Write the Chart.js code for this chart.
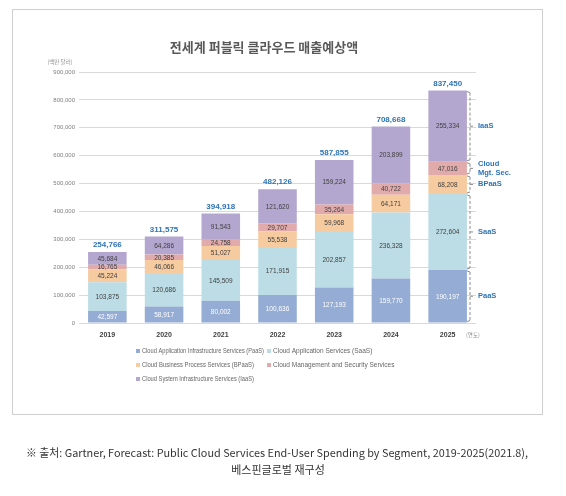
<!DOCTYPE html>
<html><head><meta charset="utf-8">
<script src="https://cdn.jsdelivr.net/npm/chart.js@4.4.1/dist/chart.umd.min.js"></script>
<style>html,body{margin:0;padding:0;background:#fff;}canvas{display:block;}</style>
</head><body>
<canvas id="c" width="566" height="496" style="width:566px;height:496px"></canvas>
<script>
const years = ['2019','2020','2021','2022','2023','2024','2025'];
const paas  = [42597, 58917, 80002, 100636, 127193, 159770, 190197];
const saas  = [103875, 120686, 145509, 171915, 202857, 236328, 272604];
const bpaas = [45224, 46066, 51027, 55538, 59968, 64171, 68208];
const mgmt  = [16765, 20385, 24758, 29707, 35264, 40722, 47016];
const iaas  = [45684, 64286, 91543, 121620, 159224, 203899, 255334];
const totals = [254766, 311575, 394918, 482126, 587855, 708668, 837450];
const seriesNames = [
  'Cloud Application Infrastructure Services (PaaS)',
  'Cloud Application Services (SaaS)',
  'Cloud Business Process Services (BPaaS)',
  'Cloud Management and Security Services',
  'Cloud System Infrastructure Services (IaaS)'
];
const shortNames = [['PaaS'], ['SaaS'], ['BPaaS'], ['Cloud','Mgt. Sec.'], ['IaaS']];
const title = '전세계 퍼블릭 클라우드 매출예상액';
const unitLabel = '(백만 달러)';
const xUnit = '(연도)';
const source1 = '※ 출처: Gartner, Forecast: Public Cloud Services End-User Spending by Segment, 2019-2025(2021.8),';
const source2 = '베스핀글로벌 재구성';

const colors = ['#95acd4', '#bcdde6', '#f7cba0', '#e2abab', '#b4a7cf'];
const labelColors = ['#ffffff', '#404040', '#404040', '#404040', '#404040'];
const blue = '#2e75b6';
const fmt = v => v.toLocaleString('en-US');

const deco = {
  id: 'deco',
  beforeDraw(chart) {
    const ctx = chart.ctx;
    ctx.save();
    ctx.fillStyle = '#fff';
    ctx.fillRect(0, 0, chart.width, chart.height);
    ctx.strokeStyle = '#cfcfcf';
    ctx.lineWidth = 1;
    ctx.strokeRect(12.5, 9.5, 530, 405);
    ctx.restore();
  },
  afterDatasetsDraw(chart) {
    const ctx = chart.ctx;
    ctx.save();
    ctx.textAlign = 'center';
    ctx.textBaseline = 'middle';
    ctx.font = '6.5px "Liberation Sans", sans-serif';
    chart.data.datasets.forEach((ds, di) => {
      const meta = chart.getDatasetMeta(di);
      meta.data.forEach((el, i) => {
        ctx.fillStyle = labelColors[di];
        ctx.fillText(fmt(ds.data[i]), el.x, (el.y + el.base) / 2 + 0.5, 34);
      });
    });
    const topMeta = chart.getDatasetMeta(chart.data.datasets.length - 1);
    ctx.font = 'bold 8px "Liberation Sans", sans-serif';
    ctx.fillStyle = blue;
    topMeta.data.forEach((el, i) => {
      ctx.fillText(fmt(totals[i]), el.x, el.y - 7);
    });
    const last = years.length - 1;
    const bx = 470;
    chart.data.datasets.forEach((ds, di) => {
      const el = chart.getDatasetMeta(di).data[last];
      const top = el.y + 2, bot = el.base - 2, mid = (el.y + el.base) / 2;
      ctx.strokeStyle = '#8c8c8c';
      ctx.lineWidth = 1;
      ctx.setLineDash([3, 2]);
      ctx.beginPath();
      ctx.moveTo(bx, top); ctx.lineTo(bx, bot);
      ctx.stroke();
      ctx.setLineDash([]);
      ctx.beginPath();
      ctx.moveTo(bx - 3, top - 1); ctx.lineTo(bx, top);
      ctx.moveTo(bx - 3, bot + 1); ctx.lineTo(bx, bot);
      ctx.moveTo(bx, mid); ctx.lineTo(bx + 3, mid);
      ctx.stroke();
      ctx.fillStyle = blue;
      ctx.font = 'bold 7.5px "Liberation Sans", sans-serif';
      ctx.textAlign = 'left';
      const lines = shortNames[di];
      lines.forEach((t, k) => {
        ctx.fillText(t, 478, mid + (k - (lines.length - 1) / 2) * 8.5);
      });
      ctx.textAlign = 'center';
    });
    ctx.restore();
  },
  afterDraw(chart) {
    const ctx = chart.ctx;
    ctx.save();
    ctx.textBaseline = 'middle';
    ctx.textAlign = 'center';
    ctx.fillStyle = '#595959';
    ctx.font = 'bold 13px "Noto Sans CJK KR", sans-serif';
    ctx.fillText(title, 264, 47);
    ctx.fillStyle = '#8c8c8c';
    ctx.font = '5.5px "Noto Sans CJK KR", sans-serif';
    ctx.fillText(unitLabel, 60, 62);
    ctx.textAlign = 'left';
    ctx.fillText(xUnit, 466, 335);
    const pos = [[136, 351], [267, 351], [136, 365], [267, 365], [136, 379]];
    ctx.font = '6.5px "Liberation Sans", sans-serif';
    seriesNames.forEach((n, i) => {
      const [x, y] = pos[i];
      ctx.fillStyle = colors[i];
      ctx.fillRect(x, y - 2, 4, 4);
      ctx.fillStyle = '#666';
      ctx.fillText(n, x + 6, y, (i === 0 ? 122 : i === 2 ? 112 : i === 4 ? 112 : 130));
    });
    ctx.textAlign = 'center';
    ctx.fillStyle = '#333';
    ctx.font = '11px "Noto Sans CJK KR", sans-serif';
    ctx.fillText(source1, 277, 453, 502);
    ctx.fillText(source2, 278, 470);
    ctx.restore();
  }
};

const datasetsList = [paas, saas, bpaas, mgmt, iaas].map((arr, i) => ({
  label: seriesNames[i],
  data: arr,
  backgroundColor: colors[i],
  borderWidth: 0,
  categoryPercentage: 1,
  barPercentage: 0.68
}));

new Chart(document.getElementById('c'), {
  type: 'bar',
  data: { labels: years, datasets: datasetsList },
  options: {
    responsive: false,
    animation: false,
    devicePixelRatio: 1,
    layout: { padding: { top: 72, right: 90, left: 0, bottom: 0 } },
    plugins: { legend: { display: false }, tooltip: { enabled: false } },
    scales: {
      x: {
        stacked: true,
        grid: { display: false, drawTicks: false },
        border: { display: false },
        ticks: { color: '#404040', font: { size: 7, weight: 'bold', family: '"Liberation Sans", sans-serif' }, padding: 8 },
        afterFit(s) { s.height = 173; }
      },
      y: {
        stacked: true,
        min: 0, max: 900000,
        grid: { color: '#d9d9d9', drawTicks: false },
        border: { display: false },
        ticks: {
          stepSize: 100000,
          color: '#7f7f7f',
          padding: 4,
          font: { size: 6, family: '"Liberation Sans", sans-serif' },
          callback: v => fmt(v)
        },
        afterFit(s) { s.width = 79; }
      }
    }
  },
  plugins: [deco]
});
</script>
</body></html>
